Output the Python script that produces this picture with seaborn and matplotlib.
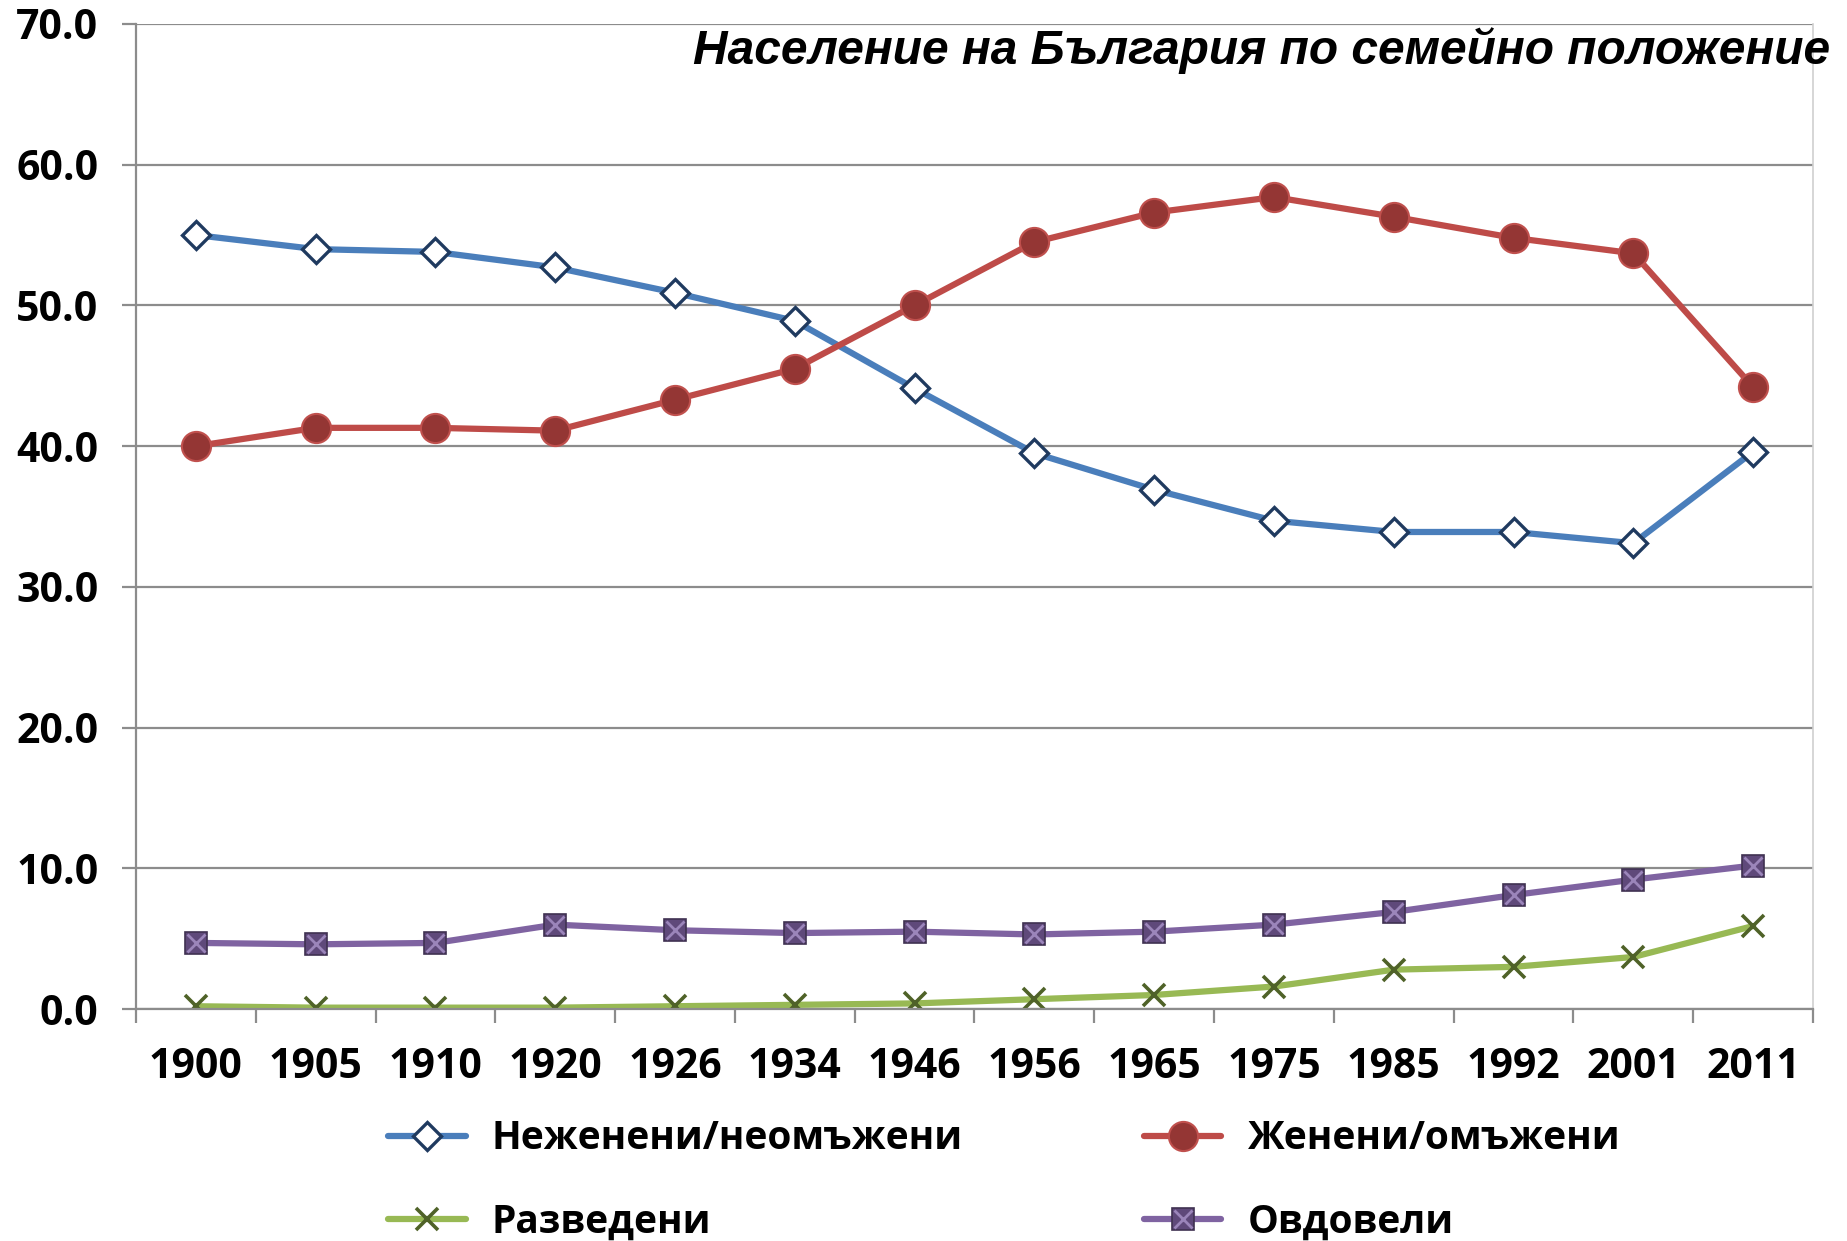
import matplotlib
matplotlib.use('Agg')
import matplotlib.pyplot as plt
import seaborn as sns

# Population of Bulgaria by marital status, %
years = ['1900', '1905', '1910', '1920', '1926', '1934', '1946',
         '1956', '1965', '1975', '1985', '1992', '2001', '2011']
single = [55.0, 54.0, 53.8, 52.7, 50.9, 48.9, 44.1, 39.5, 36.9, 34.7, 33.9, 33.9, 33.1, 39.6]
married = [40.0, 41.3, 41.3, 41.1, 43.3, 45.5, 50.0, 54.5, 56.6, 57.7, 56.3, 54.8, 53.7, 44.2]
divorced = [0.2, 0.1, 0.1, 0.1, 0.2, 0.3, 0.4, 0.7, 1.0, 1.6, 2.8, 3.0, 3.7, 5.9]
widowed = [4.7, 4.6, 4.7, 6.0, 5.6, 5.4, 5.5, 5.3, 5.5, 6.0, 6.9, 8.1, 9.2, 10.2]

labels = ['Неженени/неомъжени', 'Женени/омъжени', 'Разведени', 'Овдовели']
title = 'Население на България по семейно положение'
y_ticks = [0, 10, 20, 30, 40, 50, 60, 70]

sns.set_style('white')
plt.rcParams['font.family'] = ['Open Sans', 'DejaVu Sans']
plt.rcParams['text.color'] = 'black'
plt.rcParams['xtick.labelcolor'] = 'black'
plt.rcParams['ytick.labelcolor'] = 'black'

fig = plt.figure(figsize=(18.47, 12.41), dpi=100)
ax = fig.add_axes([0.0736, 0.1869, 0.908, 0.7938])

pos = list(range(len(years)))

sns.lineplot(x=pos, y=single, ax=ax, color='#4A7EBB', lw=4.5, marker='D',
             markersize=14.5, markerfacecolor='white', markeredgecolor='#1F3A5F',
             markeredgewidth=2.4)
sns.lineplot(x=pos, y=married, ax=ax, color='#BE4B48', lw=4.5, marker='o',
             markersize=21, markerfacecolor='#943634', markeredgecolor='#C0504D',
             markeredgewidth=1.5)
sns.lineplot(x=pos, y=divorced, ax=ax, color='#98B954', lw=4.5, marker='x',
             markersize=16, markeredgecolor='#4F6228', markeredgewidth=2.6)
sns.lineplot(x=pos, y=widowed, ax=ax, color='#7F63A1', lw=4.5, marker='s',
             markersize=16.5, markerfacecolor='#5F497A', markeredgecolor='#3F3151',
             markeredgewidth=1.2)
# the X inside the widowed squares
ax.plot(pos, widowed, ls='none', marker='x', markersize=13,
        markeredgecolor='#9B85BA', markeredgewidth=2.0, zorder=5)

lines = ax.get_lines()
handles = [lines[0], lines[2], lines[1], (lines[3], lines[4])]
hl = [labels[0], labels[2], labels[1], labels[3]]

ax.set_xlim(-0.5, len(years) - 0.5)
ax.set_ylim(0, 70)
ax.set_yticks(y_ticks)
ax.set_yticklabels([f'{v:.1f}' for v in y_ticks])
ax.set_xticks(pos)
ax.set_xticklabels(years)
ax.set_xticks([p - 0.5 for p in pos] + [len(years) - 0.5], minor=True)

ax.grid(axis='y', color='#8C8C8C', lw=1.6)
ax.set_axisbelow(True)
for s in ['left', 'bottom']:
    ax.spines[s].set_color('#8C8C8C')
    ax.spines[s].set_linewidth(1.6)
ax.spines['top'].set_visible(False)
ax.spines['right'].set_color('#D0D0D0')
ax.spines['right'].set_linewidth(1.2)

ax.tick_params(axis='y', which='major', direction='out', length=10, width=1.6,
               color='#8C8C8C', left=True, pad=17, labelsize=29.5)
ax.tick_params(axis='x', which='major', length=0, pad=27, labelsize=29.5)
ax.tick_params(axis='x', which='minor', direction='out', length=10, width=1.6,
               color='#8C8C8C', bottom=True)
for t in ax.get_xticklabels() + ax.get_yticklabels():
    t.set_fontweight('bold')

fig.text(1830 / 1847, 1 - 51 / 1241, title, ha='right', va='center',
         fontsize=34.5, fontweight='bold', fontstyle='italic',
         family='Liberation Sans', color='black')

fig.legend(handles, hl, loc='upper left', bbox_to_anchor=(0.21, 0.098),
           ncol=2, frameon=False, borderpad=0, borderaxespad=0,
           handlelength=2.0, handletextpad=0.67, columnspacing=4.65,
           labelspacing=1.15, prop={'size': 28, 'weight': 'bold'})

fig.savefig('out.png', dpi=100)
